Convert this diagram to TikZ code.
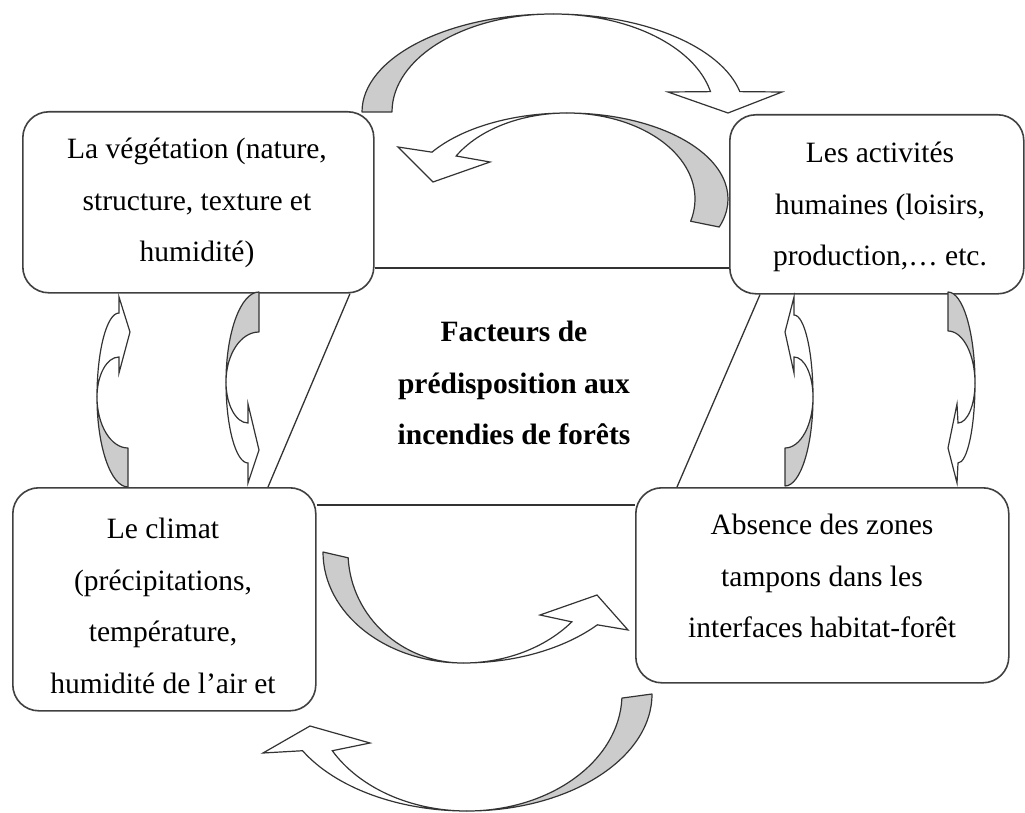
\documentclass[tikz,border=0pt]{standalone}
\usepackage{fontspec}
\setmainfont{Liberation Serif}
\usetikzlibrary{calc}

\tikzset{
  factorbox/.style={draw=black!75, line width=1.6pt, rounded corners=26pt, fill=white, anchor=north west},
  factortext/.style={align=center, font=\fontsize{29.5}{51.5}\selectfont},
  frame/.style={draw=black!80, line width=1.3pt},
  ribbonback/.style={draw=black!80, line width=1.2pt, fill=gray!40, line join=round},
  ribbonfront/.style={draw=black!80, line width=1.2pt, fill=white}
}

\begin{document}
\begin{tikzpicture}[x=1pt, y=1pt, yscale=-1]
    \useasboundingbox (0,0) rectangle (1025,813);

    \node[factorbox, minimum width=351pt, minimum height=181pt] (veg) at (22,111) {};
    \node[factorbox, minimum width=294pt, minimum height=179pt] (act) at (729,114) {};
    \node[factorbox, minimum width=303pt, minimum height=223pt] (clim) at (12,487) {};
    \node[factorbox, minimum width=373pt, minimum height=195pt] (abs) at (635,487) {};

    \node[factortext] (vegtext) at (197,203) {La végétation (nature,\\structure, texture et\\humidité)};
    \node[factortext] (acttext) at (880,207) {Les activités\\humaines (loisirs,\\production,… etc.};
    \node[factortext] (climtext) at (163,606) {Le climat\\(précipitations,\\température,\\humidité de l’air et};
    \node[factortext] (abstext) at (822,576) {Absence des zones\\tampons dans les\\interfaces habitat-forêt};
    \node[factortext, font=\fontsize{29.5}{51.5}\selectfont\bfseries] (center) at (514,383) {Facteurs de\\prédisposition aux\\incendies de forêts};

    \draw[frame] (veg.east |- 0,268) -- (act.west |- 0,268);
    \draw[frame] (clim.east |- 0,505) -- (abs.west |- 0,505);
    \draw[frame] (veg.south -| 350,0) -- (clim.north -| 268,0);
    \draw[frame] (act.south -| 760,0) -- (abs.north -| 677,0);

    \coordinate (t1) at (553,112);
    \draw[ribbonback] ($(t1)+(180:191 and 98)$) arc[start angle=180, end angle=270, x radius=191, y radius=98]
        arc[start angle=270, end angle=180, x radius=161, y radius=98] -- cycle;
    \draw[ribbonfront] ($(t1)+(270:191 and 98)$) arc[start angle=270, end angle=348, x radius=191, y radius=98]
        -- (782,92) -- (728,113) -- (668,92) -- ($(t1)+(348:161 and 98)$)
        arc[start angle=348, end angle=270, x radius=161, y radius=98] -- cycle;

    \coordinate (t2) at (567,199);
    \draw[ribbonback] ($(t2)+(19:161 and 86)$) arc[start angle=19, end angle=-90, x radius=161, y radius=86]
        arc[start angle=-90, end angle=15, x radius=128, y radius=86] -- cycle;
    \draw[ribbonfront] ($(t2)+(-90:161 and 86)$) arc[start angle=-90, end angle=-147, x radius=161, y radius=86]
        -- (398,147) -- (433,182) -- (490,162) -- ($(t2)+(-150:128 and 86)$)
        arc[start angle=-150, end angle=-90, x radius=128, y radius=86] -- cycle;

    \coordinate (b1) at (463,552);
    \draw[ribbonback] ($(b1)+(180:140 and 111)$) arc[start angle=180, end angle=90, x radius=140, y radius=111]
        arc[start angle=90, end angle=177, x radius=115, y radius=111] -- cycle;
    \draw[ribbonfront] ($(b1)+(90:178 and 111)$) arc[start angle=90, end angle=41, x radius=178, y radius=111]
        -- (628,630) -- (597,595) -- (540,615) -- ($(b1)+(39:140 and 111)$)
        arc[start angle=39, end angle=90, x radius=140, y radius=111] -- cycle;

    \coordinate (b2) at (467,694);
    \draw[ribbonback] ($(b2)+(0:185 and 117)$) arc[start angle=0, end angle=90, x radius=185, y radius=117]
        arc[start angle=90, end angle=2, x radius=155, y radius=117] -- cycle;
    \draw[ribbonfront] ($(b2)+(90:188 and 117)$) arc[start angle=90, end angle=151, x radius=188, y radius=117]
        -- (263,753) -- (310,726) -- (370,743) -- ($(b2)+(151:154 and 117)$)
        arc[start angle=151, end angle=90, x radius=154, y radius=117] -- cycle;

    \coordinate (l1g) at (128,397);
    \coordinate (l1w) at (119,397);
    \draw[ribbonback] ($(l1g)+(90:31 and 90)$) arc[start angle=90, end angle=180, x radius=31, y radius=90]
        arc[start angle=180, end angle=90, x radius=31, y radius=51] -- cycle;
    \draw[ribbonfront] ($(l1w)+(180:22 and 84)$) arc[start angle=180, end angle=270, x radius=22, y radius=84]
        -- (119,297) -- (130,332) -- (119,373) -- ($(l1w)+(270:22 and 40)$)
        arc[start angle=270, end angle=180, x radius=22, y radius=40] -- cycle;

    \coordinate (l2g) at (259,382);
    \coordinate (l2w) at (248,382);
    \draw[ribbonback] ($(l2g)+(-90:33 and 90)$) arc[start angle=-90, end angle=-180, x radius=33, y radius=90]
        arc[start angle=-180, end angle=-90, x radius=33, y radius=50] -- cycle;
    \draw[ribbonfront] ($(l2w)+(180:22 and 81)$) arc[start angle=180, end angle=90, x radius=22, y radius=81]
        -- (248,483) -- (259,450) -- (248,404) -- ($(l2w)+(90:22 and 41)$)
        arc[start angle=90, end angle=180, x radius=22, y radius=41] -- cycle;

    \coordinate (r1g) at (785,397);
    \coordinate (r1w) at (794,397);
    \draw[ribbonback] ($(r1g)+(90:28 and 89)$) arc[start angle=90, end angle=0, x radius=28, y radius=89]
        arc[start angle=0, end angle=90, x radius=28, y radius=51] -- cycle;
    \draw[ribbonfront] ($(r1w)+(0:19 and 82)$) arc[start angle=0, end angle=-90, x radius=19, y radius=82]
        -- (794,297) -- (785,332) -- (794,373) -- ($(r1w)+(-90:19 and 40)$)
        arc[start angle=-90, end angle=0, x radius=19, y radius=40] -- cycle;

    \coordinate (r2g) at (948,383);
    \coordinate (r2w) at (958,383);
    \draw[ribbonback] ($(r2g)+(-90:27 and 91)$) arc[start angle=-90, end angle=0, x radius=27, y radius=91]
        arc[start angle=0, end angle=-90, x radius=27, y radius=52] -- cycle;
    \draw[ribbonfront] ($(r2w)+(0:17 and 80)$) arc[start angle=0, end angle=90, x radius=17, y radius=80]
        -- (957,483) -- (948,448) -- (957,404) -- ($(r2w)+(90:17 and 40)$)
        arc[start angle=90, end angle=0, x radius=17, y radius=40] -- cycle;
\end{tikzpicture}
\end{document}
